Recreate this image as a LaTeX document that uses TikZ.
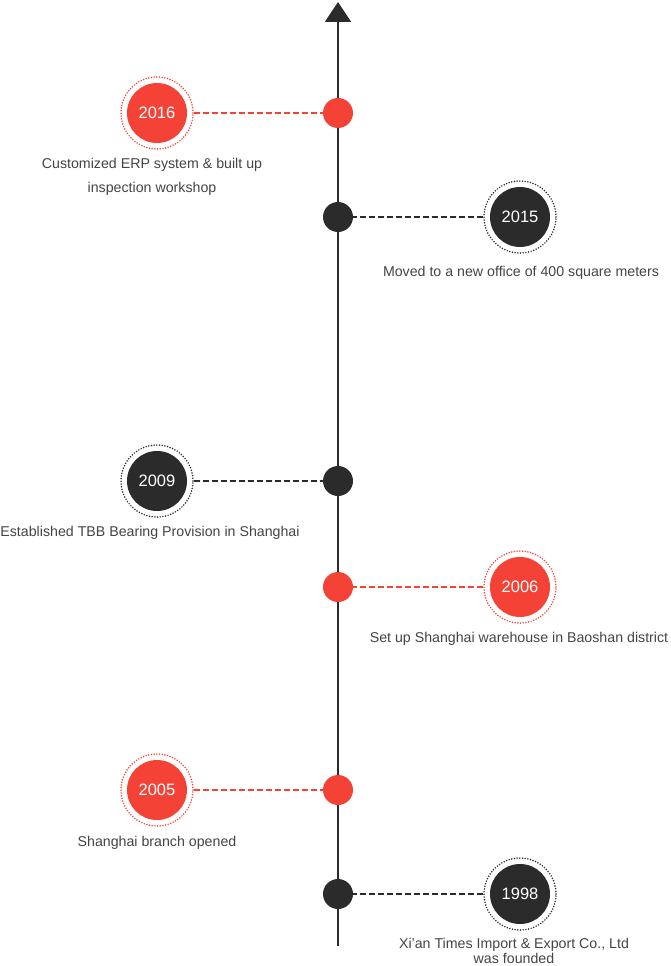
\documentclass[tikz,border=0pt]{standalone}
\usepackage{fontspec}
\setmainfont{Liberation Sans}
\usetikzlibrary{arrows.meta}
\definecolor{tlred}{HTML}{F44336}
\definecolor{tldark}{HTML}{2B2B2B}
\definecolor{tltext}{HTML}{444444}
\tikzset{
	axisdot/.style={circle,minimum size=30pt,inner sep=0pt,fill=#1},
	yearring/.style={circle,minimum size=72pt,inner sep=0pt,draw=#1,line width=1.7pt,
		dash pattern=on 0pt off 2.7pt,line cap=round,text=white,
		font=\fontsize{16.5}{18}\selectfont,
		path picture={\fill[#1] (path picture bounding box.center) circle (30pt);}},
	note/.style={text=tltext,font=\fontsize{14.2}{24}\selectfont,align=center,inner sep=0pt},
	link/.style={line width=1.6pt,dash pattern=on 6pt off 3pt,draw=#1},
}

\begin{document}
\begin{tikzpicture}[x=1pt,y=-1pt]
	\useasboundingbox (0,0) rectangle (671,966);
	\coordinate (bottom) at (338,946);
	\coordinate (top) at (338,2);
	\draw[line width=2pt,tldark,-{Triangle[width=26pt,length=20pt]}] (bottom) -- (top);

	\node[axisdot=tlred] (d16) at (338,113) {};
	\node[axisdot=tldark] (d15) at (338,217) {};
	\node[axisdot=tldark] (d09) at (338,481) {};
	\node[axisdot=tlred] (d06) at (338,587) {};
	\node[axisdot=tlred] (d05) at (338,790) {};
	\node[axisdot=tldark] (d98) at (338,894) {};

	\node[yearring=tlred] (y16) at (157,113) {2016};
	\node[yearring=tldark] (y15) at (520,217) {2015};
	\node[yearring=tldark] (y09) at (157,481) {2009};
	\node[yearring=tlred] (y06) at (520,587) {2006};
	\node[yearring=tlred] (y05) at (157,790) {2005};
	\node[yearring=tldark] (y98) at (520,894) {1998};

	\node[note] (t16) at (152,177) {Customized ERP system \& built up\\inspection workshop};
	\node[note] (t15) at (521,273) {Moved to a new office of 400 square meters};
	\node[note] (t09) at (150,533) {Established TBB Bearing Provision in Shanghai};
	\node[note] (t06) at (519,639) {Set up Shanghai warehouse in Baoshan district};
	\node[note] (t05) at (157,843) {Shanghai branch opened};
	\node[note,font=\fontsize{14.2}{15}\selectfont] (t98) at (514,951) {Xi’an Times Import \& Export Co., Ltd\\was founded};

	\path
		(y16) edge[link=tlred] (d16)
		(y06) edge[link=tlred] (d06)
		(y05) edge[link=tlred] (d05);
	\path
		(y15) edge[link=tldark] (d15)
		(y09) edge[link=tldark] (d09)
		(y98) edge[link=tldark] (d98);
\end{tikzpicture}
\end{document}
